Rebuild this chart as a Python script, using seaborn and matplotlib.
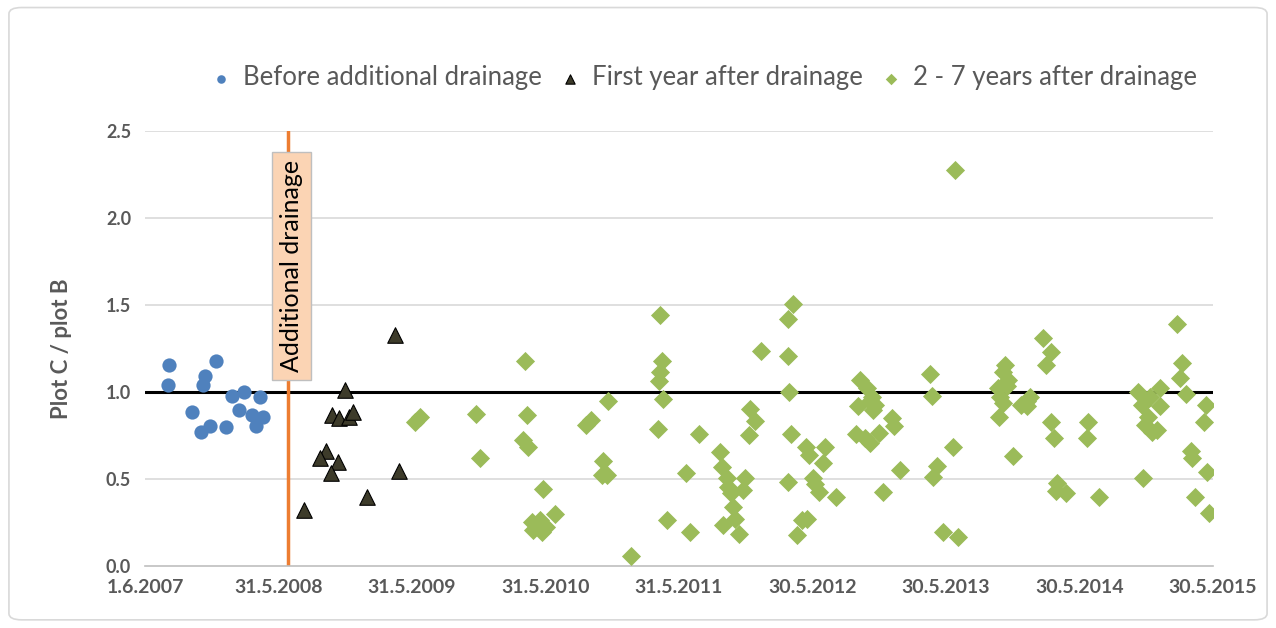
import pandas as pd
import matplotlib
matplotlib.use("Agg")
import matplotlib.pyplot as plt
from matplotlib.patches import FancyBboxPatch
import seaborn as sns

# Before additional drainage
before_dates = ['2007-08-06', '2007-08-02', '2007-11-13', '2007-11-07', '2007-12-12',
                '2007-10-08', '2007-11-01', '2007-11-27', '2008-01-09', '2008-01-24',
                '2008-02-28', '2008-02-12', '2008-03-19', '2008-04-10', '2008-04-20',
                '2008-03-31']
before_vals = [1.151, 1.040, 1.093, 1.040, 1.174, 0.886, 0.771, 0.805, 0.796, 0.978,
               1.001, 0.897, 0.867, 0.969, 0.857, 0.805]

# First year after drainage
first_dates = ['2009-04-14', '2008-11-30', '2008-10-25', '2008-11-13', '2008-12-10',
               '2008-12-20', '2008-10-08', '2008-09-21', '2008-11-10', '2008-10-21',
               '2009-04-25', '2009-01-27', '2008-08-09']
first_vals = [1.328, 1.011, 0.867, 0.848, 0.854, 0.886, 0.656, 0.618, 0.598, 0.531,
              0.546, 0.393, 0.320]

# 2 - 7 years after drainage
later_dates = ['2009-06-08', '2009-06-22', '2009-11-22', '2009-12-03', '2010-04-05',
               '2010-04-10', '2010-03-31', '2010-04-14', '2010-05-24', '2010-06-26',
               '2010-04-24', '2010-05-16', '2010-06-03', '2010-04-28', '2010-05-21',
               '2010-09-19', '2010-10-04', '2010-11-19', '2010-11-04', '2010-11-01',
               '2010-11-16', '2011-01-20', '2011-04-09', '2011-04-14', '2011-04-10',
               '2011-04-08', '2011-04-19', '2011-04-03', '2011-04-28', '2011-06-19',
               '2011-06-30', '2011-07-25', '2011-09-21', '2011-09-25', '2011-10-09',
               '2011-10-13', '2011-10-22', '2011-10-25', '2011-10-31', '2011-09-29',
               '2011-11-12', '2011-11-28', '2011-11-23', '2011-12-11', '2011-12-25',
               '2011-12-09', '2012-01-12', '2012-04-08', '2012-03-24', '2012-03-24',
               '2012-03-28', '2012-04-01', '2012-03-25', '2012-05-14', '2012-05-22',
               '2012-07-04', '2012-06-29', '2012-05-31', '2012-06-06', '2012-06-18',
               '2012-08-03', '2012-05-01', '2012-05-15', '2012-04-17', '2012-10-07',
               '2012-10-26', '2012-11-08', '2012-11-17', '2012-11-04', '2012-11-13',
               '2012-10-03', '2013-01-02', '2013-01-08', '2012-09-26', '2012-10-21',
               '2012-11-04', '2012-11-29', '2013-01-25', '2012-12-10', '2013-04-17',
               '2013-04-21', '2013-06-19', '2013-05-05', '2013-04-24', '2013-05-23',
               '2013-07-03', '2013-06-24', '2013-11-08', '2013-11-03', '2013-11-17',
               '2013-10-21', '2013-11-13', '2013-10-25', '2013-11-03', '2013-10-22',
               '2013-11-30', '2013-12-23', '2014-01-06', '2014-01-15', '2014-01-07',
               '2014-02-20', '2014-03-14', '2014-02-27', '2014-03-14', '2014-03-22',
               '2014-03-30', '2014-03-28', '2014-04-25', '2014-06-24', '2014-06-19',
               '2014-07-23', '2014-11-07', '2014-11-17', '2014-12-09', '2015-01-06',
               '2015-01-07', '2014-12-05', '2014-11-26', '2014-12-14', '2014-12-28',
               '2014-11-21', '2015-02-20', '2015-03-06', '2015-03-02', '2015-03-18',
               '2015-05-13', '2015-05-06', '2015-03-31', '2015-04-02', '2015-05-14',
               '2015-04-11', '2015-05-21']
later_vals = [0.828, 0.857, 0.871, 0.621, 1.174,
              0.867, 0.723, 0.684, 0.439, 0.295,
              0.252, 0.262, 0.224, 0.204, 0.195,
              0.809, 0.838, 0.949, 0.602, 0.521,
              0.521, 0.056, 1.443, 1.174, 1.116,
              1.059, 0.957, 0.785, 0.262, 0.531,
              0.191, 0.756, 0.652, 0.569, 0.502,
              0.454, 0.416, 0.339, 0.266, 0.233,
              0.180, 0.502, 0.435, 0.901, 0.834,
              0.752, 1.236, 1.505, 1.418, 1.207,
              1.001, 0.756, 0.479, 0.684, 0.637,
              0.684, 0.589, 0.502, 0.469, 0.425,
              0.396, 0.262, 0.266, 0.176, 1.069,
              1.021, 0.972, 0.925, 0.944, 0.896,
              0.915, 0.851, 0.804, 0.757, 0.733,
              0.704, 0.762, 0.550, 0.425, 1.103,
              0.976, 0.684, 0.573, 0.508, 0.195,
              0.166, 2.278, 1.155, 1.116, 1.069,
              1.021, 1.030, 0.972, 0.934, 0.857,
              0.631, 0.925, 0.949, 0.972, 0.915,
              1.309, 1.226, 1.151, 0.825, 0.736,
              0.474, 0.431, 0.416, 0.825, 0.736,
              0.396, 1.001, 0.925, 0.972, 1.021,
              0.915, 0.857, 0.809, 0.771, 0.781,
              0.502, 1.391, 1.165, 1.078, 0.988,
              0.925, 0.823, 0.656, 0.618, 0.539,
              0.396, 0.305]

tick_dates = ['2007-06-01', '2008-05-31', '2009-05-31', '2010-05-31', '2011-05-31',
              '2012-05-30', '2013-05-30', '2014-05-30', '2015-05-30']
tick_labels = ['1.6.2007', '31.5.2008', '31.5.2009', '31.5.2010', '31.5.2011',
               '30.5.2012', '30.5.2013', '30.5.2014', '30.5.2015']
drainage_date = '2008-06-25'

sns.set_style("white")
plt.rcParams['font.family'] = ['Lato', 'DejaVu Sans']

fig = plt.figure(figsize=(12.76, 6.28), dpi=100)
ax = fig.add_axes([0.1136, 0.0995, 0.8368, 0.6919])

grey = '#595959'
for y in [0.5, 1.5, 2.0, 2.5]:
    ax.axhline(y, color='#D9D9D9', lw=1.2, zorder=0)
ax.axhline(1.0, color='black', lw=2.2, zorder=1)

ax.axvline(pd.Timestamp(drainage_date), color='#ED7D31', lw=2.5, zorder=2)

df_before = pd.DataFrame({'date': pd.to_datetime(before_dates), 'ratio': before_vals})
df_first = pd.DataFrame({'date': pd.to_datetime(first_dates), 'ratio': first_vals})
df_later = pd.DataFrame({'date': pd.to_datetime(later_dates), 'ratio': later_vals})

sns.scatterplot(data=df_before, x='date', y='ratio', ax=ax, color='#4F81BD', marker='o',
                s=105, linewidth=0, label='Before additional drainage', zorder=3)
sns.scatterplot(data=df_first, x='date', y='ratio', ax=ax, color='#3D3B2A', marker='^',
                s=125, edgecolor='black', linewidth=0.8, label='First year after drainage', zorder=3)
sns.scatterplot(data=df_later, x='date', y='ratio', ax=ax, color='#9BBB59', marker='D',
                s=95, linewidth=0, label='2 - 7 years after drainage', zorder=3)

ax.text(pd.Timestamp('2008-07-05'), 1.725, 'Additional drainage', rotation=90,
        ha='center', va='center', fontsize=18, color='black', zorder=4,
        bbox=dict(boxstyle='square,pad=0.32', facecolor='#FBD4B4', edgecolor='#BFBFBF'))

ax.set_ylim(0, 2.5)
ax.set_xlim(pd.Timestamp('2007-06-01'), pd.Timestamp('2015-05-30'))
ax.set_yticks([0.0, 0.5, 1.0, 1.5, 2.0, 2.5])
ax.set_yticklabels(['0.0', '0.5', '1.0', '1.5', '2.0', '2.5'])
ax.set_xticks(pd.to_datetime(tick_dates))
ax.set_xticklabels(tick_labels)
ax.tick_params(axis='x', colors=grey, labelsize=14, length=6, width=1, direction='out',
               color='#BFBFBF', pad=4)
ax.tick_params(axis='y', colors=grey, labelsize=13, length=0, pad=10)
for lab in ax.get_xticklabels() + ax.get_yticklabels():
    lab.set_fontweight('bold')

ax.set_xlabel('')
ax.set_ylabel('Plot C / plot B', fontsize=16, fontweight='bold', color=grey, labelpad=24)

for side in ['left', 'right', 'top']:
    ax.spines[side].set_visible(False)
ax.spines['bottom'].set_color('#BFBFBF')
ax.spines['bottom'].set_linewidth(1.2)

ax.legend(loc='center', bbox_to_anchor=(0.5505, 0.876), bbox_transform=fig.transFigure,
          ncol=3, frameon=False, fontsize=18.5, markerscale=0.6, handlelength=1.0,
          handletextpad=0.35, columnspacing=0.6, labelcolor=grey)

fig.patches.append(FancyBboxPatch((0.007, 0.013), 0.986, 0.975, transform=fig.transFigure,
                                  boxstyle='round,pad=0,rounding_size=0.01',
                                  facecolor='none', edgecolor='#D9D9D9', lw=1.2))

fig.savefig('out.png', dpi=100)
